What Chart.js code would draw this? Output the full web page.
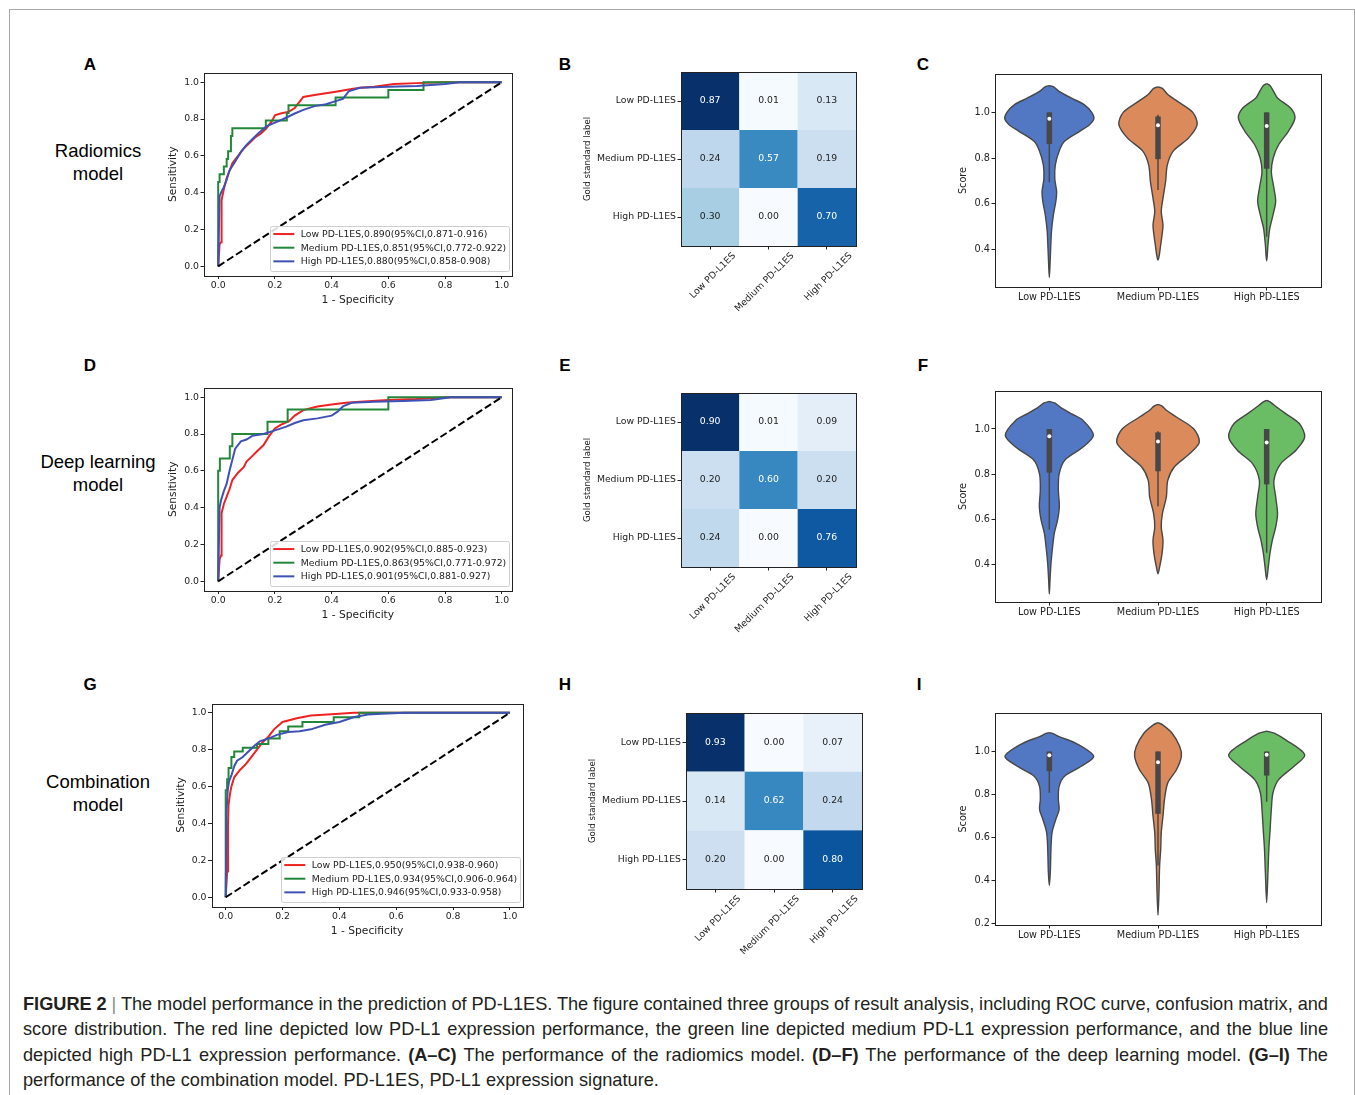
<!DOCTYPE html>
<html>
<head>
<meta charset="utf-8">
<script src="https://cdn.jsdelivr.net/npm/chart.js@4.4.1/dist/chart.umd.min.js"></script>
<style>
  body { margin: 0; background: #fff; width: 1355px; height: 1095px; position: relative; overflow: hidden;
         font-family: 'Liberation Sans', Arial, sans-serif; color: #000; }
  .border { position: absolute; left: 9px; top: 9px; width: 1344px; height: 1100px; border: 1px solid #a8a8a8; }
  .letter { position: absolute; font-weight: bold; font-size: 17px; transform: translate(-50%, -50%); }
  .rowlab { position: absolute; font-size: 18.5px; line-height: 23px; text-align: center; transform: translate(-50%, -50%); white-space: nowrap; }
  canvas { position: absolute; }
  .caption { position: absolute; left: 23px; top: 992px; width: 1305px; font-size: 18.2px; color: #231f20; }
  .caption div { height: 25.4px; line-height: 25.4px; text-align: justify; text-align-last: justify; }
  .caption div.first { word-spacing: -1.5px; }
  .caption div.last { text-align-last: left; }
  .bar { color: #8a8a8a; }
</style>
</head>
<body>
<div class="border"></div>

<div class="letter" style="left:90px;top:65px">A</div>
<div class="letter" style="left:565px;top:65px">B</div>
<div class="letter" style="left:923px;top:65px">C</div>
<div class="letter" style="left:90px;top:366px">D</div>
<div class="letter" style="left:565px;top:366px">E</div>
<div class="letter" style="left:923px;top:366px">F</div>
<div class="letter" style="left:90px;top:685px">G</div>
<div class="letter" style="left:565px;top:685px">H</div>
<div class="letter" style="left:919px;top:685px">I</div>

<div class="rowlab" style="left:98px;top:162px">Radiomics<br>model</div>
<div class="rowlab" style="left:98px;top:473px">Deep learning<br>model</div>
<div class="rowlab" style="left:98px;top:793px">Combination<br>model</div>

<div class="caption">
  <div class="first"><b>FIGURE 2</b> <span class="bar">|</span> The model performance in the prediction of PD-L1ES. The figure contained three groups of result analysis, including ROC curve, confusion matrix, and</div>
  <div>score distribution. The red line depicted low PD-L1 expression performance, the green line depicted medium PD-L1 expression performance, and the blue line</div>
  <div>depicted high PD-L1 expression performance. <b>(A–C)</b> The performance of the radiomics model. <b>(D–F)</b> The performance of the deep learning model. <b>(G–I)</b> The</div>
  <div class="last">performance of the combination model. PD-L1ES, PD-L1 expression signature.</div>
</div>

<script>
// ---- data ----
const classes = ['Low PD-L1ES', 'Medium PD-L1ES', 'High PD-L1ES'];
const rocTicks = [0, 0.2, 0.4, 0.6, 0.8, 1.0];
const diagX = [0, 1];
const diagY = [0, 1];

// A: radiomics ROC
const aLowFpr = [0, 0.005, 0.01, 0.012, 0.02, 0.03, 0.04, 0.05, 0.07, 0.09, 0.11, 0.13, 0.15, 0.17, 0.19, 0.2, 0.22, 0.25, 0.27, 0.29, 0.3, 0.34, 0.38, 0.42, 0.46, 0.5, 0.55, 0.62, 0.7, 0.8, 1];
const aLowTpr = [0, 0.12, 0.13, 0.36, 0.42, 0.48, 0.52, 0.56, 0.6, 0.64, 0.67, 0.7, 0.72, 0.75, 0.79, 0.82, 0.83, 0.84, 0.86, 0.9, 0.92, 0.93, 0.94, 0.95, 0.96, 0.97, 0.975, 0.99, 0.995, 1, 1];
const aMedFpr = [0, 0, 0.005, 0.02, 0.03, 0.035, 0.045, 0.05, 0.168, 0.242, 0.248, 0.414, 0.6, 0.724, 0.929, 1];
const aMedTpr = [0, 0.292, 0.458, 0.5, 0.542, 0.583, 0.625, 0.708, 0.75, 0.792, 0.833, 0.875, 0.917, 0.958, 1, 1];
const aHighFpr = [0, 0.005, 0.01, 0.02, 0.03, 0.04, 0.06, 0.08, 0.1, 0.12, 0.14, 0.17, 0.2, 0.23, 0.27, 0.3, 0.34, 0.38, 0.42, 0.44, 0.46, 0.5, 0.6, 0.7, 0.8, 0.85, 1];
const aHighTpr = [0, 0.38, 0.4, 0.43, 0.47, 0.52, 0.57, 0.62, 0.66, 0.69, 0.72, 0.76, 0.78, 0.8, 0.83, 0.85, 0.87, 0.88, 0.9, 0.91, 0.95, 0.97, 0.975, 0.98, 0.99, 1, 1];
const aAuc = [0.890, 0.851, 0.880];
const aCi = [[0.871, 0.916], [0.772, 0.922], [0.858, 0.908]];

// D: deep learning ROC
const dLowFpr = [0, 0.005, 0.01, 0.012, 0.02, 0.03, 0.04, 0.05, 0.07, 0.09, 0.1, 0.12, 0.14, 0.16, 0.18, 0.2, 0.22, 0.25, 0.27, 0.3, 0.35, 0.4, 0.45, 0.5, 0.6, 0.7, 0.8, 1];
const dLowTpr = [0, 0.12, 0.14, 0.37, 0.42, 0.46, 0.5, 0.55, 0.59, 0.62, 0.65, 0.68, 0.71, 0.74, 0.79, 0.83, 0.85, 0.87, 0.9, 0.93, 0.95, 0.96, 0.97, 0.975, 0.985, 0.99, 1, 1];
const dMedFpr = [0, 0, 0.006, 0.041, 0.05, 0.174, 0.245, 0.6, 0.927, 1];
const dMedTpr = [0, 0.467, 0.6, 0.667, 0.733, 0.8, 0.867, 0.933, 1, 1];
const dHighFpr = [0, 0.005, 0.01, 0.02, 0.03, 0.04, 0.05, 0.06, 0.08, 0.1, 0.12, 0.16, 0.2, 0.24, 0.27, 0.3, 0.35, 0.4, 0.42, 0.44, 0.47, 0.55, 0.65, 0.75, 0.82, 1];
const dHighTpr = [0, 0.4, 0.44, 0.49, 0.53, 0.6, 0.66, 0.72, 0.76, 0.77, 0.79, 0.8, 0.82, 0.84, 0.86, 0.875, 0.885, 0.9, 0.92, 0.95, 0.97, 0.975, 0.98, 0.985, 1, 1];
const dAuc = [0.902, 0.863, 0.901];
const dCi = [[0.885, 0.923], [0.771, 0.972], [0.881, 0.927]];

// G: combination ROC
const gLowFpr = [0, 0.005, 0.008, 0.01, 0.015, 0.02, 0.03, 0.05, 0.07, 0.09, 0.11, 0.13, 0.15, 0.17, 0.2, 0.25, 0.3, 0.4, 0.45, 1];
const gLowTpr = [0, 0.14, 0.38, 0.5, 0.56, 0.6, 0.65, 0.69, 0.72, 0.76, 0.8, 0.84, 0.87, 0.91, 0.95, 0.97, 0.985, 0.995, 1, 1];
const gMedFpr = [0, 0, 0.005, 0.01, 0.02, 0.03, 0.06, 0.11, 0.15, 0.19, 0.22, 0.27, 0.38, 0.47, 0.57, 1];
const gMedTpr = [0, 0.45, 0.58, 0.64, 0.7, 0.76, 0.79, 0.81, 0.83, 0.86, 0.9, 0.925, 0.95, 0.975, 1, 1];
const gHighFpr = [0, 0.003, 0.007, 0.012, 0.02, 0.03, 0.04, 0.06, 0.08, 0.1, 0.12, 0.15, 0.18, 0.22, 0.26, 0.3, 0.35, 0.4, 0.45, 0.5, 0.55, 0.63, 1];
const gHighTpr = [0, 0.47, 0.58, 0.63, 0.66, 0.71, 0.74, 0.76, 0.79, 0.82, 0.845, 0.86, 0.88, 0.895, 0.9, 0.91, 0.935, 0.95, 0.975, 0.99, 0.995, 1, 1];
const gAuc = [0.950, 0.934, 0.946];
const gCi = [[0.938, 0.960], [0.906, 0.964], [0.933, 0.958]];

// confusion matrices (rows = gold standard label)
const cmB = [[0.87, 0.01, 0.13], [0.24, 0.57, 0.19], [0.30, 0.00, 0.70]];
const cmE = [[0.90, 0.01, 0.09], [0.20, 0.60, 0.20], [0.24, 0.00, 0.76]];
const cmH = [[0.93, 0.00, 0.07], [0.14, 0.62, 0.24], [0.20, 0.00, 0.80]];

// violins: score levels (top to bottom) and half widths; box = [whiskerLow, q1, median, q3, whiskerHigh]
const cLowS = [1.117, 1.112, 1.092, 1.063, 1.034, 1.0, 0.972, 0.946, 0.917, 0.873, 0.83, 0.77, 0.71, 0.653, 0.61, 0.55, 0.48, 0.40, 0.33, 0.277];
const cLowW = [0, 0.04, 0.09, 0.2, 0.32, 0.39, 0.41, 0.37, 0.28, 0.14, 0.09, 0.055, 0.05, 0.067, 0.06, 0.037, 0.02, 0.012, 0.006, 0];
const cLowBox = [0.694, 0.861, 0.972, 1.0, 1.0];
const cMedS = [1.112, 1.105, 1.078, 1.048, 1.0, 0.946, 0.887, 0.83, 0.77, 0.697, 0.624, 0.565, 0.507, 0.462, 0.42, 0.375, 0.353];
const cMedW = [0, 0.04, 0.09, 0.18, 0.32, 0.36, 0.28, 0.14, 0.086, 0.07, 0.046, 0.03, 0.046, 0.037, 0.025, 0.012, 0];
const cMedBox = [0.66, 0.795, 0.943, 0.982, 0.99];
const cHighS = [1.126, 1.118, 1.095, 1.063, 1.019, 0.975, 0.917, 0.858, 0.80, 0.74, 0.667, 0.61, 0.55, 0.49, 0.42, 0.37, 0.35];
const cHighW = [0, 0.03, 0.06, 0.1, 0.22, 0.26, 0.2, 0.11, 0.06, 0.043, 0.067, 0.083, 0.058, 0.028, 0.012, 0.005, 0];
const cHighBox = [0.455, 0.753, 0.94, 1.0, 1.0];

const fLowS = [1.122, 1.115, 1.097, 1.068, 1.038, 0.972, 0.92, 0.861, 0.80, 0.73, 0.658, 0.60, 0.54, 0.478, 0.404, 0.33, 0.271];
const fLowW = [0, 0.05, 0.1, 0.2, 0.31, 0.405, 0.31, 0.14, 0.09, 0.083, 0.092, 0.077, 0.046, 0.03, 0.015, 0.006, 0];
const fLowBox = [0.555, 0.807, 0.968, 1.0, 1.0];
const fMedS = [1.109, 1.1, 1.083, 1.053, 1.0, 0.942, 0.89, 0.832, 0.773, 0.70, 0.625, 0.566, 0.508, 0.449, 0.39, 0.36];
const fMedW = [0, 0.04, 0.077, 0.17, 0.33, 0.38, 0.29, 0.15, 0.09, 0.077, 0.04, 0.03, 0.046, 0.037, 0.015, 0];
const fMedBox = [0.658, 0.813, 0.945, 0.985, 0.99];
const fHighS = [1.127, 1.12, 1.105, 1.068, 1.024, 0.965, 0.906, 0.847, 0.773, 0.70, 0.625, 0.566, 0.508, 0.449, 0.39, 0.334];
const fHighW = [0, 0.03, 0.07, 0.175, 0.3, 0.35, 0.27, 0.13, 0.067, 0.083, 0.1, 0.083, 0.052, 0.03, 0.015, 0];
const fHighBox = [0.453, 0.755, 0.94, 1.0, 1.0];

const iLowS = [1.088, 1.082, 1.069, 1.038, 0.977, 0.93, 0.885, 0.838, 0.777, 0.73, 0.685, 0.623, 0.546, 0.438, 0.377];
const iLowW = [0, 0.04, 0.09, 0.245, 0.408, 0.29, 0.14, 0.09, 0.083, 0.09, 0.06, 0.025, 0.015, 0.009, 0];
const iLowBox = [0.808, 0.908, 0.982, 1.0, 1.0];
const iMedS = [1.134, 1.125, 1.085, 1.023, 0.977, 0.915, 0.854, 0.777, 0.70, 0.623, 0.546, 0.47, 0.346, 0.238];
const iMedW = [0, 0.04, 0.13, 0.2, 0.215, 0.17, 0.09, 0.06, 0.046, 0.03, 0.025, 0.015, 0.009, 0];
const iMedBox = [0.47, 0.71, 0.95, 1.0, 1.0];
const iHighS = [1.095, 1.09, 1.085, 1.054, 0.985, 0.93, 0.869, 0.808, 0.73, 0.623, 0.546, 0.438, 0.297];
const iHighW = [0, 0.035, 0.07, 0.175, 0.35, 0.25, 0.11, 0.058, 0.043, 0.03, 0.02, 0.012, 0];
const iHighBox = [0.766, 0.888, 0.985, 1.0, 1.0];

const violinTicksCF = [0.4, 0.6, 0.8, 1.0];
const violinTicksI = [0.2, 0.4, 0.6, 0.8, 1.0];

// ---- styling ----
Chart.defaults.font.family = "'DejaVu Sans', sans-serif";
Chart.defaults.color = '#222';
const rocColors = ['#ee2222', '#23873a', '#3f51b5'];
const violinColors = ['#5278c4', '#db8a5b', '#6bbd65'];
const edge = '#474747';
const tickGrid = { drawOnChartArea: false, drawTicks: true, tickLength: 3.5, color: '#222', lineWidth: 1 };
const bluesStops = [[247,251,255],[222,235,247],[198,219,239],[158,202,225],[107,174,214],[66,146,198],[33,113,181],[8,81,156],[8,48,107]];

function blues(t) {
  t = Math.max(0, Math.min(1, t)) * 8;
  const i = Math.min(7, Math.floor(t)), f = t - i;
  const c = bluesStops[i].map((v, k) => Math.round(v + (bluesStops[i + 1][k] - v) * f));
  return `rgb(${c[0]},${c[1]},${c[2]})`;
}

const pts = (xs, ys) => xs.map((x, k) => ({ x, y: ys[k] }));

// draw all four spines
const framePlugin = {
  id: 'frame',
  afterDraw(chart) {
    const { ctx, chartArea: a } = chart;
    ctx.save();
    ctx.strokeStyle = '#222';
    ctx.lineWidth = 1;
    ctx.strokeRect(Math.round(a.left) + 0.5, Math.round(a.top) + 0.5, Math.round(a.width), Math.round(a.height));
    ctx.restore();
  }
};

// legend box in the lower right of the ROC plots
const rocLegend = {
  id: 'rocLegend',
  afterDatasetsDraw(chart) {
    const { ctx, chartArea: a } = chart;
    const items = chart.data.datasets.filter(d => d.inLegend);
    ctx.save();
    ctx.font = "9.3px 'DejaVu Sans'";
    const tw = Math.max(...items.map(d => ctx.measureText(d.label).width));
    const rowH = 13.65;
    const w = tw + 34, h = items.length * rowH + 4.5;
    const x = a.right - 2.5 - w, y = a.bottom - 4 - h;
    ctx.fillStyle = 'rgba(255,255,255,0.85)';
    ctx.strokeStyle = '#cfcfcf';
    ctx.lineWidth = 1;
    ctx.beginPath();
    ctx.roundRect(Math.round(x) + 0.5, Math.round(y) + 0.5, Math.round(w), Math.round(h), 2);
    ctx.fill();
    ctx.stroke();
    ctx.textBaseline = 'middle';
    items.forEach((d, i) => {
      const cy = y + 8 + rowH * i;
      ctx.strokeStyle = d.borderColor;
      ctx.lineWidth = 2;
      ctx.beginPath();
      ctx.moveTo(x + 3.5, cy);
      ctx.lineTo(x + 24.5, cy);
      ctx.stroke();
      ctx.fillStyle = '#222';
      ctx.fillText(d.label, x + 31, cy + 0.5);
    });
    ctx.restore();
  }
};

function cmCells(matrix) {
  const flat = matrix.flat();
  const lo = Math.min(...flat), hi = Math.max(...flat);
  return {
    id: 'cmCells',
    beforeDatasetsDraw(chart) {
      const { ctx, scales: { x, y } } = chart;
      ctx.save();
      ctx.font = "9.3px 'DejaVu Sans'";
      ctx.textAlign = 'center';
      ctx.textBaseline = 'middle';
      matrix.forEach((row, i) => row.forEach((v, j) => {
        const x0 = x.getPixelForValue(j - 0.5), x1 = x.getPixelForValue(j + 0.5);
        const y0 = y.getPixelForValue(i - 0.5), y1 = y.getPixelForValue(i + 0.5);
        ctx.fillStyle = blues((v - lo) / (hi - lo));
        ctx.fillRect(x0, y0, x1 - x0, y1 - y0);
        ctx.fillStyle = v > hi / 2 ? '#fff' : '#222';
        ctx.fillText(v.toFixed(2), (x0 + x1) / 2, (y0 + y1) / 2);
      }));
      ctx.restore();
    }
  };
}

// canvas placed so that the plot frame lands on [l, t, r, b]
function makeCanvas(frame, pad) {
  const left = Math.round(frame[0] - pad.l), top = Math.round(frame[1] - pad.t);
  const width = Math.round(frame[2] + pad.r - left), height = Math.round(frame[3] + pad.b - top);
  const c = document.createElement('canvas');
  c.width = width; c.height = height;
  c.style.left = left + 'px'; c.style.top = top + 'px';
  c.style.width = width + 'px'; c.style.height = height + 'px';
  document.body.appendChild(c);
  return { ctx: c, yW: frame[0] - left, padT: frame[1] - top, padR: left + width - frame[2], xH: top + height - frame[3] };
}

function baseOptions(g) {
  return {
    responsive: false, animation: false, events: [],
    layout: { padding: { left: 0, top: g.padT, right: g.padR, bottom: 0 } },
    plugins: { legend: { display: false }, tooltip: { enabled: false } }
  };
}

function rocChart(frame, xMax, curves, auc, ci) {
  const g = makeCanvas(frame, { l: 44, t: 12, r: 8, b: 36 });
  const datasets = curves.map((c, i) => ({
    label: `${classes[i]},${auc[i].toFixed(3)}(95%CI,${ci[i][0].toFixed(3)}-${ci[i][1].toFixed(3)})`,
    data: pts(c[0], c[1]),
    showLine: true, pointRadius: 0, borderWidth: 2,
    borderColor: rocColors[i], stepped: i === 1 ? 'after' : false,
    order: 3 - i, inLegend: true
  }));
  datasets.push({ label: 'chance', data: pts(diagX, diagY), showLine: true, pointRadius: 0,
    borderWidth: 2, borderColor: '#000', borderDash: [7.4, 3.2], order: 0 });
  const opts = baseOptions(g);
  opts.scales = {
    x: { type: 'linear', min: -0.05, max: xMax,
      afterBuildTicks: s => { s.ticks = rocTicks.map(v => ({ value: v })); },
      afterFit: s => { s.height = g.xH; },
      ticks: { callback: v => v.toFixed(1), padding: 1, maxRotation: 0, font: { size: 9.3 } },
      grid: tickGrid, border: { display: false },
      title: { display: true, text: '1 - Specificity', font: { size: 10.7 }, padding: { top: 0, bottom: 5.5 } } },
    y: { type: 'linear', min: -0.05, max: 1.05,
      afterBuildTicks: s => { s.ticks = rocTicks.map(v => ({ value: v })); },
      afterFit: s => { s.width = g.yW; },
      ticks: { callback: v => v.toFixed(1), padding: 1.5, font: { size: 9.3 } },
      grid: tickGrid, border: { display: false },
      title: { display: true, text: 'Sensitivity', font: { size: 10.7 }, padding: { top: 6.6, bottom: 0 } } }
  };
  new Chart(g.ctx, { type: 'scatter', data: { datasets }, options: opts, plugins: [rocLegend, framePlugin] });
}

function cmChart(frame, matrix) {
  const g = makeCanvas(frame, { l: 101, t: 10, r: 10, b: 75 });
  const ids = classes.map((_, i) => ({ value: i }));
  const opts = baseOptions(g);
  opts.scales = {
    x: { type: 'linear', min: -0.5, max: 2.5,
      afterBuildTicks: s => { s.ticks = ids.map(t => ({ ...t })); },
      afterFit: s => { s.height = g.xH; },
      ticks: { callback: v => classes[Math.round(v)], minRotation: 45, maxRotation: 45, labelOffset: 24, padding: 1, font: { size: 9.3 } },
      grid: tickGrid, border: { display: false } },
    y: { type: 'linear', min: -0.5, max: 2.5, reverse: true,
      afterBuildTicks: s => { s.ticks = ids.map(t => ({ ...t })); },
      afterFit: s => { s.width = g.yW; },
      ticks: { callback: v => classes[Math.round(v)], padding: 1.5, font: { size: 9.3 } },
      grid: tickGrid, border: { display: false },
      title: { display: true, text: 'Gold standard label', font: { size: 8.6 }, padding: { top: 2.8, bottom: 0 } } }
  };
  new Chart(g.ctx, { type: 'scatter', data: { datasets: [] }, options: opts, plugins: [cmCells(matrix), framePlugin] });
}

function violinChart(frame, violins, yMin, yMax, yTicks) {
  const g = makeCanvas(frame, { l: 45, t: 10, r: 10, b: 26 });
  const datasets = [];
  violins.forEach((v, i) => {
    const [s, w, box] = v;
    const right = s.map((y, k) => ({ x: i + w[k], y }));
    const left = s.slice(1, -1).map((y, k) => ({ x: i - w[k + 1], y })).reverse();
    datasets.push({ data: [...right, ...left, right[0]], showLine: true, pointRadius: 0, tension: 0.3,
      fill: 'shape', backgroundColor: violinColors[i], borderColor: edge, borderWidth: 1.4, order: 3 });
    datasets.push({ data: [{ x: i, y: box[0] }, { x: i, y: box[4] }], showLine: true, pointRadius: 0,
      borderColor: edge, borderWidth: 1.5, order: 2 });
    datasets.push({ data: [{ x: i, y: box[1] }, { x: i, y: box[3] }], showLine: true, pointRadius: 0,
      borderColor: edge, borderWidth: 5.5, borderCapStyle: 'butt', order: 1 });
    datasets.push({ data: [{ x: i, y: box[2] }], pointRadius: 2, pointBackgroundColor: '#fff',
      pointBorderWidth: 0, order: 0 });
  });
  const opts = baseOptions(g);
  opts.scales = {
    x: { type: 'linear', min: -0.5, max: 2.5,
      afterBuildTicks: s => { s.ticks = classes.map((_, k) => ({ value: k })); },
      afterFit: s => { s.height = g.xH; },
      ticks: { callback: v => classes[Math.round(v)], maxRotation: 0, padding: 1, font: { size: 9.7 } },
      grid: tickGrid, border: { display: false } },
    y: { type: 'linear', min: yMin, max: yMax,
      afterBuildTicks: s => { s.ticks = yTicks.map(t => ({ value: t })); },
      afterFit: s => { s.width = g.yW; },
      ticks: { callback: v => v.toFixed(1), padding: 1.5, font: { size: 9.7 } },
      grid: tickGrid, border: { display: false },
      title: { display: true, text: 'Score', font: { size: 9.7 }, padding: { top: 7.2, bottom: 0 } } }
  };
  new Chart(g.ctx, { type: 'scatter', data: { datasets }, options: opts, plugins: [framePlugin] });
}

// ---- row 1: radiomics ----
rocChart([204, 73, 511.7, 275.5], 1.035, [[aLowFpr, aLowTpr], [aMedFpr, aMedTpr], [aHighFpr, aHighTpr]], aAuc, aCi);
cmChart([681, 72, 856, 246], cmB);
violinChart([995, 74, 1321, 287], [[cLowS, cLowW, cLowBox], [cMedS, cMedW, cMedBox], [cHighS, cHighW, cHighBox]], 0.235, 1.168, violinTicksCF);

// ---- row 2: deep learning ----
rocChart([204, 388, 511.7, 590.5], 1.035, [[dLowFpr, dLowTpr], [dMedFpr, dMedTpr], [dHighFpr, dHighTpr]], dAuc, dCi);
cmChart([681, 393, 856, 567], cmE);
violinChart([995, 391, 1321, 602], [[fLowS, fLowW, fLowBox], [fMedS, fMedW, fMedBox], [fHighS, fHighW, fHighBox]], 0.235, 1.168, violinTicksCF);

// ---- row 3: combination ----
rocChart([211.5, 703.5, 522.7, 906.5], 1.045, [[gLowFpr, gLowTpr], [gMedFpr, gMedTpr], [gHighFpr, gHighTpr]], gAuc, gCi);
cmChart([686, 713, 862, 889], cmH);
violinChart([995, 713, 1321, 925], [[iLowS, iLowW, iLowBox], [iMedS, iMedW, iMedBox], [iHighS, iHighW, iHighBox]], 0.193, 1.179, violinTicksI);
</script>
</body>
</html>
